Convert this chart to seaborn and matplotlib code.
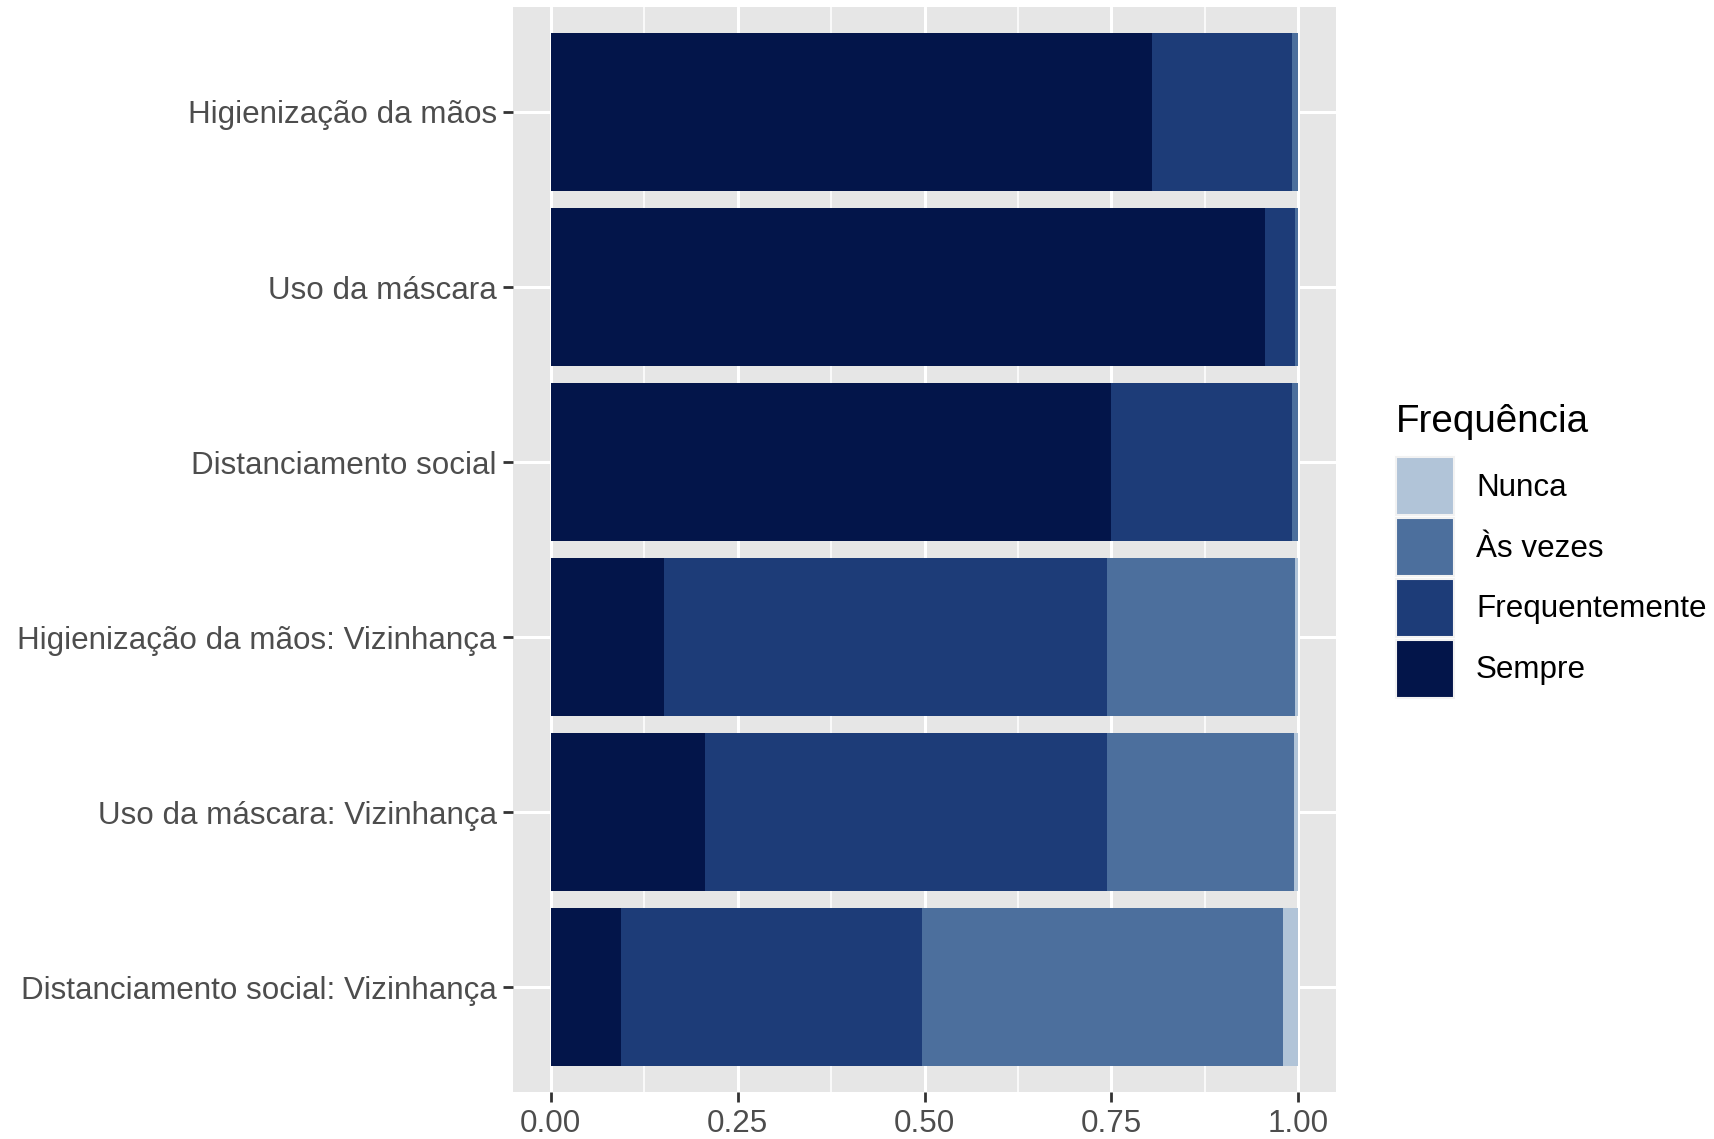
import matplotlib
matplotlib.use("Agg")
import matplotlib.pyplot as plt
from matplotlib.patches import Patch
from matplotlib.ticker import MultipleLocator
import seaborn as sns
import pandas as pd

# data, top row first
categories = [
    "Higienização da mãos",
    "Uso da máscara",
    "Distanciamento social",
    "Higienização da mãos: Vizinhança",
    "Uso da máscara: Vizinhança",
    "Distanciamento social: Vizinhança",
]
sempre = [0.804, 0.955, 0.750, 0.151, 0.206, 0.094]
frequentemente = [0.187, 0.040, 0.241, 0.593, 0.538, 0.402]
as_vezes = [0.008, 0.004, 0.008, 0.251, 0.250, 0.483]
nunca = [0.001, 0.001, 0.001, 0.005, 0.006, 0.021]

levels = ["Sempre", "Frequentemente", "Às vezes", "Nunca"]
colors = {
    "Sempre": "#03154A",
    "Frequentemente": "#1D3C78",
    "Às vezes": "#4C6F9D",
    "Nunca": "#B1C4D8",
}

sns.set_theme(style="darkgrid", rc={
    "axes.facecolor": "#E6E6E6",
    "grid.color": "white",
    "axes.axisbelow": True,
})
plt.rcParams["font.family"] = ["Liberation Sans", "DejaVu Sans"]

df = pd.DataFrame({
    "Item": categories,
    "Sempre": sempre,
    "Frequentemente": frequentemente,
    "Às vezes": as_vezes,
    "Nunca": nunca,
})
cum = df[levels].cumsum(axis=1)
cum["Item"] = df["Item"]

fig = plt.figure(figsize=(17.14, 11.39), dpi=100)
ax = fig.add_axes([0.2995, 0.0410, 0.7793 - 0.2995, 0.9939 - 0.0410])

# stacked bars: draw cumulative totals, widest first
for lvl in reversed(levels):
    sns.barplot(data=cum, x=lvl, y="Item", order=categories, color=colors[lvl],
                orient="h", width=0.9, errorbar=None, saturation=1,
                linewidth=0, ax=ax)

ax.set_xlim(-0.05, 1.05)
ax.set_ylim(len(categories) - 1 + 0.6, -0.6)
ax.xaxis.set_major_locator(MultipleLocator(0.25))
ax.xaxis.set_minor_locator(MultipleLocator(0.125))
ax.set_xticks([0, 0.25, 0.5, 0.75, 1.0])
ax.set_xticklabels(["0.00", "0.25", "0.50", "0.75", "1.00"])
ax.grid(True, which="major", color="white", linewidth=2.2)
ax.xaxis.grid(True, which="minor", color="white", linewidth=1.1)
ax.yaxis.grid(True, which="major", color="white", linewidth=2.2)
for s in ax.spines.values():
    s.set_visible(False)

ax.set_xlabel("")
ax.set_ylabel("")
ax.tick_params(axis="both", which="major", length=7, width=2.0, color="#333333",
               labelsize=22.6, labelcolor="#4D4D4D", pad=5,
               bottom=True, left=True)
ax.tick_params(axis="both", which="minor", length=0)

# legend: title as its own text, keys below it
fig.text(0.8145, 0.6207, "Frequência", fontsize=27.8, color="black",
         ha="left", va="baseline")
handles = [Patch(facecolor=colors[l], edgecolor="#F2F2F2", linewidth=1.5)
           for l in reversed(levels)]
leg = fig.legend(handles, list(reversed(levels)),
                 loc="upper left", bbox_to_anchor=(0.8145, 0.5988),
                 frameon=False, fontsize=22.6, borderpad=0,
                 handlelength=1.85, handleheight=2.47, labelspacing=0.09,
                 handletextpad=0.7, borderaxespad=0)
for t in leg.get_texts():
    t.set_color("black")

fig.savefig("out.png", dpi=100)
